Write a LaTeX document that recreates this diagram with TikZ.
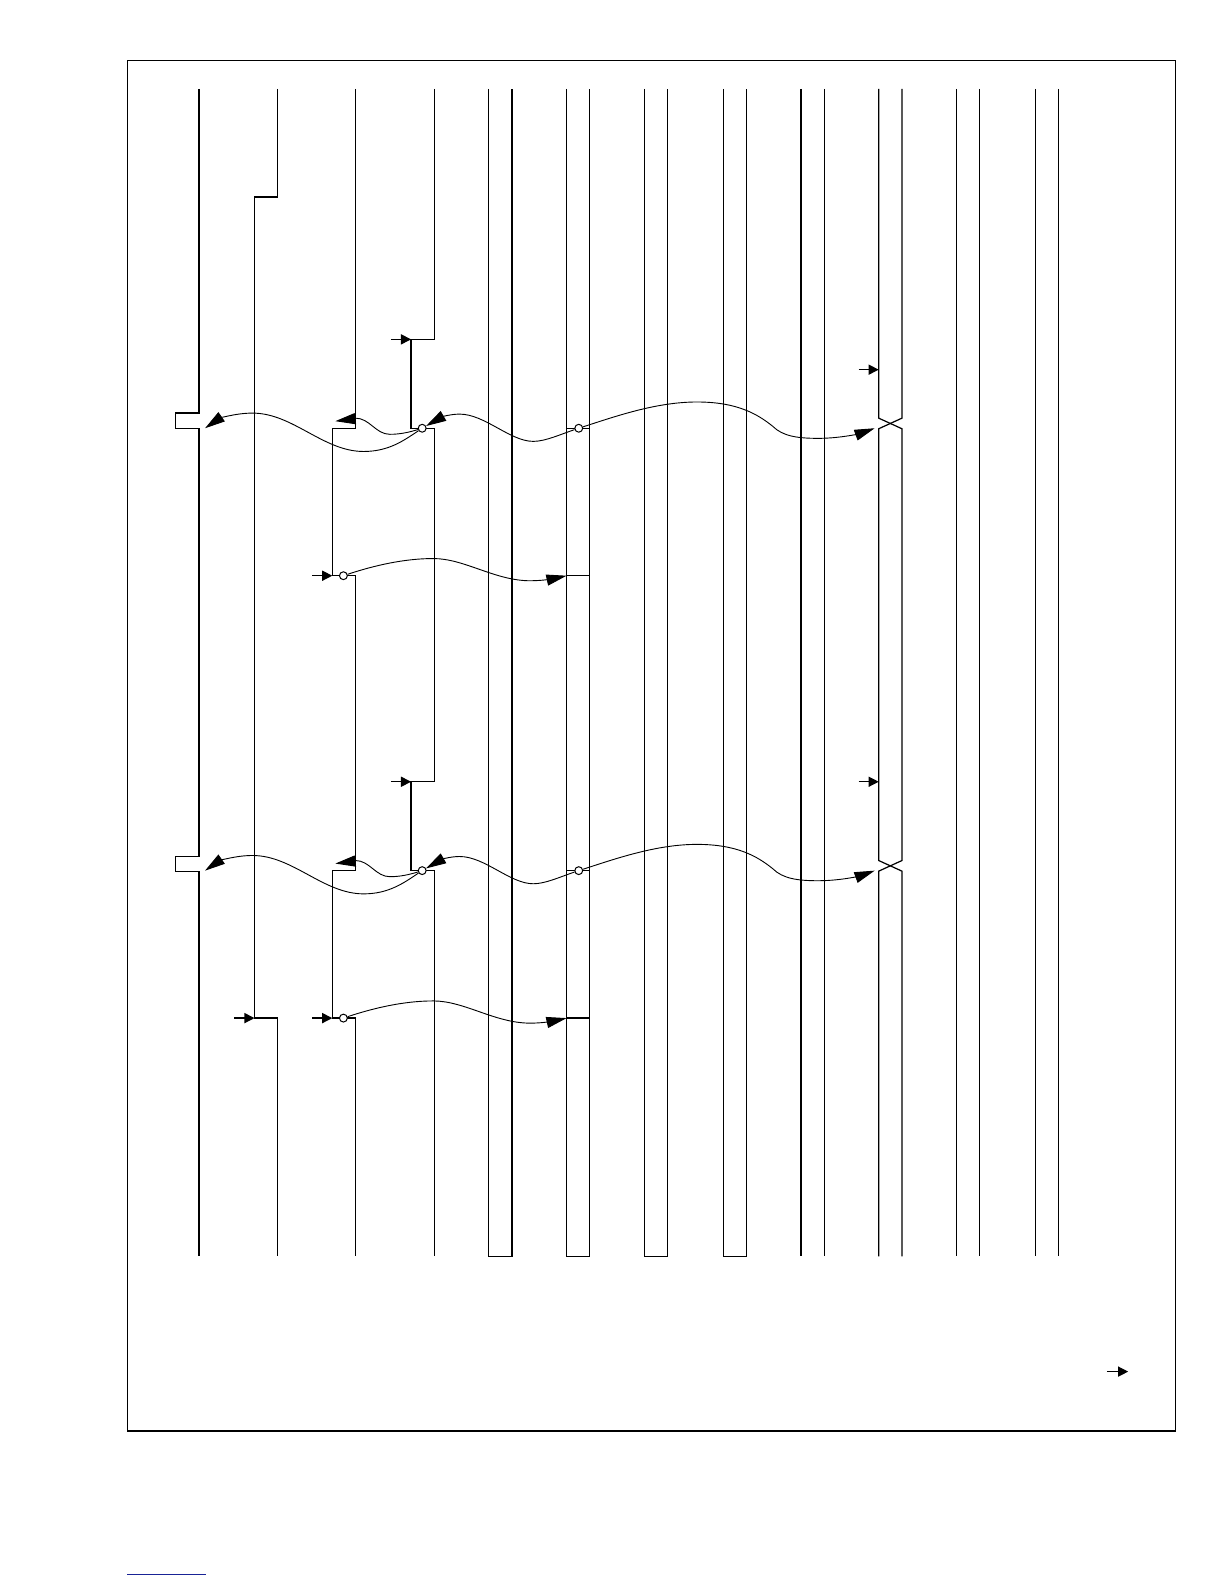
\documentclass[tikz,border=0pt]{standalone}
\usetikzlibrary{arrows.meta}
\definecolor{linkblue}{RGB}{25,35,150}
\begin{document}
\begin{tikzpicture}[x=0.5pt,y=-0.5pt,
  sig/.style={line width=0.6pt,line join=miter},
  wave/.style={line width=0.45pt,-{Triangle[length=10pt,width=5.5pt]}},
  tick/.style={line width=0.6pt,-{Triangle[length=5pt,width=5pt]}},
  dot/.style={circle,draw,fill=white,inner sep=0pt,minimum size=3.9pt,line width=0.5pt}]
\useasboundingbox (0,0) rectangle (1211.9,1568.3);
% frame
\draw[line width=0.7pt] (126,60) rectangle (1164,1417);
% signal A
\draw[sig] (197,88)--(197,409)--(174,409)--(174,424)--(197,424)--(197,848)--(174,848)--(174,863)--(197,863)--(197,1244);
% signal B
\draw[sig] (275,88)--(275,195)--(252,195)--(252,1008)--(275,1008)--(275,1244);
% signal C
\draw[sig] (352,88)--(352,424)--(329,424)--(329,570)--(352,570)--(352,862)--(329,862)--(329,1008)--(352,1008)--(352,1244);
% signal D
\draw[sig] (430,88)--(430,336)--(407,336)--(407,424)--(430,424)--(430,774)--(407,774)--(407,862)--(430,862)--(430,1244);
% bus pairs closed at the bottom
\foreach \x in {484,561,638,716}{
  \draw[sig] (\x,88)--(\x,1244)--(\x+23,1244)--(\x+23,88);
}
% F horizontal marks
\foreach \yy in {424,570,862,1008}{
  \draw[sig] (561,\yy)--(584,\yy);
}
% open pairs
\foreach \x in {793,947,1025}{
  \draw[sig] (\x,88)--(\x,1244);
  \draw[sig] (\x+23,88)--(\x+23,1244);
}
% pair G with crossings
\draw[sig] (870,88)--(870,414)--(893,424.5)--(893,852)--(870,862.5)--(870,1244);
\draw[sig] (893,88)--(893,414)--(870,424.5)--(870,852)--(893,862.5)--(893,1244);
% small arrows
\coordinate (bt) at (232,1008); \coordinate (bh) at (252,1008);
\draw[tick] (bt)--(bh);
\coordinate (gt1) at (850,366); \coordinate (gh1) at (870,366);
\draw[tick] (gt1)--(gh1);
\coordinate (gt2) at (850,774); \coordinate (gh2) at (870,774);
\draw[tick] (gt2)--(gh2);
\coordinate (rt) at (1096,1358); \coordinate (rh) at (1117,1358);
\draw[tick] (rt)--(rh);
% repeated groups
\foreach \dy in {0,438}{
  \begin{scope}[shift={(0,\dy)}]
    \coordinate (dt\dy) at (387,336); \coordinate (dh\dy) at (407,336);
    \draw[tick] (dt\dy)--(dh\dy);
    \coordinate (ct\dy) at (309,570); \coordinate (ch\dy) at (329,570);
    \draw[tick] (ct\dy)--(ch\dy);
    \node[dot] (d\dy) at (418,424) {};
    \node[dot] (f\dy) at (573,424) {};
    \node[dot] (c\dy) at (340,570) {};
    \coordinate (pa\dy) at (203,424);
    \coordinate (pc\dy) at (332,417);
    \coordinate (pg\dy) at (866,424);
    \coordinate (pf\dy) at (561,570);
    % D -> A pulse
    \draw[wave] (d\dy) .. controls (400,436) and (385,447) .. (360,447)
      .. controls (320,447) and (290,409) .. (250,409)
      .. controls (232,409) and (216,415) .. (pa\dy);
    % D -> C edge
    \draw[wave] (d\dy) .. controls (405,428) and (396,430) .. (386,430)
      .. controls (372,430) and (366,414) .. (352,414)
      .. controls (345,414) and (340,416) .. (pc\dy);
    % F -> D
    \draw[wave] (f\dy) .. controls (555,430) and (540,437) .. (528,437)
      .. controls (505,437) and (480,410) .. (455,410)
      .. controls (446,410) and (437,413) .. (d\dy);
    % F -> G
    \draw[wave] (f\dy) .. controls (610,412) and (650,398) .. (690,398)
      .. controls (730,398) and (750,410) .. (765,422)
      .. controls (775,432) and (790,434) .. (810,434)
      .. controls (835,434) and (855,428) .. (pg\dy);
    % C -> F
    \draw[wave] (c\dy) .. controls (370,560) and (400,553) .. (429,553)
      .. controls (460,553) and (490,575) .. (525,575)
      .. controls (540,575) and (552,572) .. (pf\dy);
  \end{scope}
}
% blue rule at the foot
\draw[linkblue,line width=0.6pt] (126,1559)--(204,1559);
\end{tikzpicture}
\end{document}
